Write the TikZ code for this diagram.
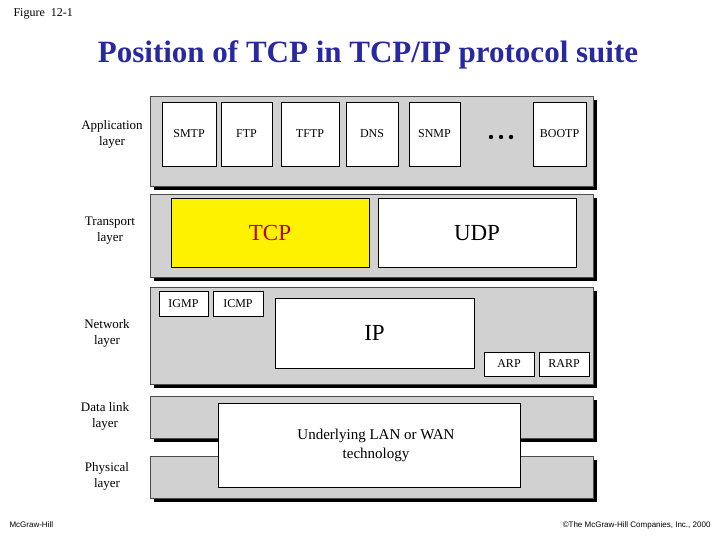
\documentclass[tikz,border=0pt]{standalone}
\usepackage{fontspec}
\setmainfont{Liberation Serif}
\setsansfont{Liberation Sans}
\definecolor{titleblue}{RGB}{40,40,160}
\begin{document}
\begin{tikzpicture}[x=1pt,y=-1pt,
  band/.style={fill=black!18,draw=black!70,line width=0.6pt},
  shadow/.style={fill=black},
  wbox/.style={fill=white,draw=black,line width=0.8pt},
  lbl/.style={align=center,font=\fontsize{13}{16}\selectfont},
  small/.style={font=\fontsize{12}{13}\selectfont},
  big/.style={font=\fontsize{23}{25}\selectfont}]
\useasboundingbox (0,0) rectangle (720,540);
\fill[white] (0,0) rectangle (720,540);
\node[anchor=west,font=\fontsize{12}{13}\selectfont] (fig) at (10,14) {Figure\ \ 12-1};
\node[font=\bfseries\fontsize{31}{33}\selectfont,text=titleblue] (title) at (368,55) {Position of TCP in TCP/IP protocol suite};
% bands
\foreach \y/\h in {96/90,194/83,287/97,396/42,456/42}{
  \fill[shadow] (154,\y+4) rectangle (597,\y+\h+4);
  \draw[band] (150,\y) rectangle (593,\y+\h);
}
% app
\foreach \a/\b/\t in {162/216/SMTP,221/272/FTP,281/339/TFTP,346/398/DNS,409/460/SNMP,533/586/BOOTP}{
  \draw[wbox] (\a,102) rectangle (\b,166);
  \node[small] (n\t) at ({(\a+\b)/2},134) {\t};
}
\node (dots) at (501,137) {};
\foreach \dx in {-10,0,10} \fill ([xshift=\dx]dots.center) circle (2.2);
% transport
\draw[wbox,fill=yellow] (171,198) rectangle (369,267);
\node[big,text=red!75!black] (tcp) at (270,233) {TCP};
\draw[wbox] (378,198) rectangle (576,267);
\node[big] (udp) at (477,233) {UDP};
% network
\draw[wbox] (159,291) rectangle (208,316); \node[small] (igmp) at (183.5,304) {IGMP};
\draw[wbox] (213,291) rectangle (263,316); \node[small] (icmp) at (238,304) {ICMP};
\draw[wbox] (275,298) rectangle (474,368); \node[big] (ip) at (374.5,333) {IP};
\draw[wbox] (484,352) rectangle (534,376); \node[small] (arp) at (509,364) {ARP};
\draw[wbox] (539,352) rectangle (589,376); \node[small] (rarp) at (564,364) {RARP};
% underlying
\draw[wbox] (218,403) rectangle (520,487);
\node[align=center,font=\fontsize{15}{19}\selectfont] (lan) at (376,445) {Underlying LAN or WAN\\technology};
% labels
\node[lbl] (la) at (112,134) {Application\\layer};
\node[lbl] (lt) at (110,231) {Transport\\layer};
\node[lbl] (ln) at (107,333) {Network\\layer};
\node[lbl] (ld) at (105,416) {Data link\\layer};
\node[lbl] (lp) at (107,476) {Physical\\layer};
\node[anchor=west,font=\sffamily\fontsize{8}{9}\selectfont] (mc) at (6,525) {McGraw-Hill};
\node[anchor=east,font=\sffamily\fontsize{8}{9}\selectfont] (cp) at (714,525) {\textcopyright The McGraw-Hill Companies, Inc., 2000};
\end{tikzpicture}
\end{document}
